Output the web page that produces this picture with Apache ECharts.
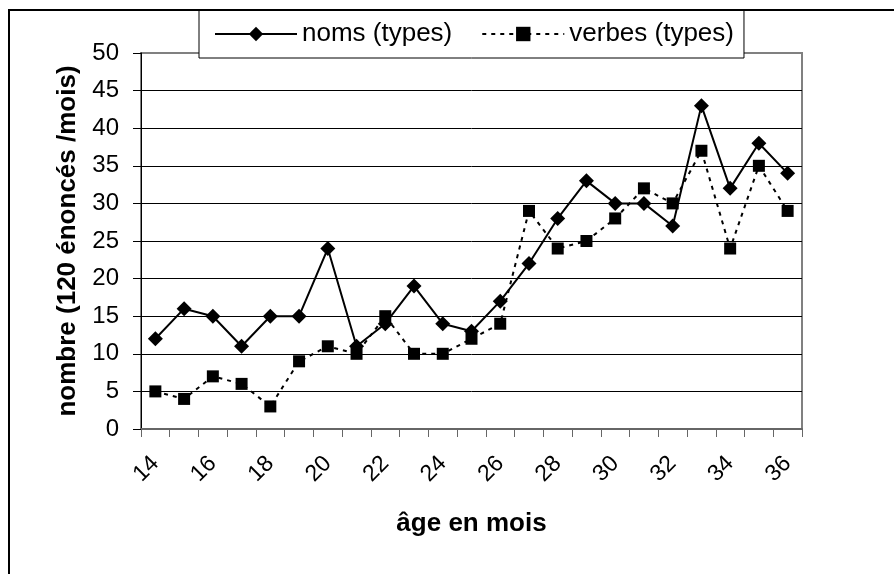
<!DOCTYPE html>
<html>
<head>
<meta charset="utf-8">
<script src="https://cdn.jsdelivr.net/npm/echarts@6/dist/echarts.min.js"></script>
<style>
html,body{margin:0;padding:0;background:#fff}
#chart{width:894px;height:574px}
</style>
</head>
<body>
<div id="chart"></div>
<script>
// ages (mois)
const ages = ['14','15','16','17','18','19','20','21','22','23','24','25','26','27','28','29','30','31','32','33','34','35','36']
const noms = [12,16,15,11,15,15,24,11,14,19,14,13,17,22,28,33,30,30,27,43,32,38,34]
const verbes = [5,4,7,6,3,9,11,10,15,10,10,12,14,29,24,25,28,32,30,37,24,35,29]

const font = 'Liberation Sans, Arial, sans-serif'

// split lines black, the top one (50) stays grey like the plot border
let gridColors = []
for (let i = 0; i < 10; i++) gridColors.push('#000')
gridColors.push('#808080')

const chart = echarts.init(document.getElementById('chart'), null, {renderer: 'canvas'})
chart.setOption({
  animation: false,
  backgroundColor: '#fff',
  textStyle: {fontFamily: font, color: '#000'},
  grid: {
    left: 141, right: 92, top: 53, bottom: 145,
    show: true, borderColor: '#808080', borderWidth: 2, backgroundColor: '#fff'
  },
  legend: {
    left: 199, top: 10,
    padding: [11, 10, 11, 15],
    itemGap: 29,
    itemWidth: 82,
    itemHeight: 18,
    backgroundColor: '#fff',
    borderColor: '#000',
    borderWidth: 1,
    textStyle: {fontFamily: font, fontSize: 26, color: '#000'},
    data: ['noms (types)', 'verbes (types)']
  },
  xAxis: {
    type: 'category',
    data: ages,
    boundaryGap: true,
    name: 'âge en mois',
    nameLocation: 'middle',
    nameGap: 82,
    nameTextStyle: {fontFamily: font, fontSize: 26, fontWeight: 'bold', color: '#000'},
    axisLine: {lineStyle: {color: '#666', width: 2}},
    axisTick: {show: true, interval: 0, length: 8, lineStyle: {color: '#666'}},
    axisLabel: {interval: 1, rotate: 45, margin: 31, fontFamily: font, fontSize: 23, color: '#000'},
    splitLine: {show: false}
  },
  yAxis: {
    type: 'value',
    min: 0, max: 50, interval: 5,
    name: 'nombre (120 énoncés /mois)',
    nameLocation: 'middle',
    nameGap: 60,
    nameTextStyle: {fontFamily: font, fontSize: 26, fontWeight: 'bold', color: '#000'},
    axisLine: {show: true, lineStyle: {color: '#000', width: 1}},
    axisTick: {show: true, length: 8, lineStyle: {color: '#000'}},
    axisLabel: {margin: 22, fontFamily: font, fontSize: 24, color: '#000'},
    splitLine: {show: true, lineStyle: {color: gridColors, width: 1}}
  },
  graphic: [
    {type: 'line', shape: {x1: 9, y1: 10, x2: 9, y2: 574}, style: {stroke: '#000', lineWidth: 2}, z: 100},
    {type: 'line', shape: {x1: 8, y1: 10, x2: 894, y2: 10}, style: {stroke: '#000', lineWidth: 2}, z: 100}
  ],
  series: [
    {
      name: 'noms (types)',
      type: 'line',
      data: noms,
      symbol: 'diamond',
      symbolSize: 15,
      showAllSymbol: true,
      itemStyle: {color: '#000'},
      lineStyle: {color: '#000', width: 2, type: 'solid'},
      z: 3
    },
    {
      name: 'verbes (types)',
      type: 'line',
      data: verbes,
      symbol: 'rect',
      symbolSize: 12,
      showAllSymbol: true,
      itemStyle: {color: '#000'},
      lineStyle: {color: '#000', width: 2, type: [4, 5]},
      z: 2
    }
  ]
})
</script>
</body>
</html>
